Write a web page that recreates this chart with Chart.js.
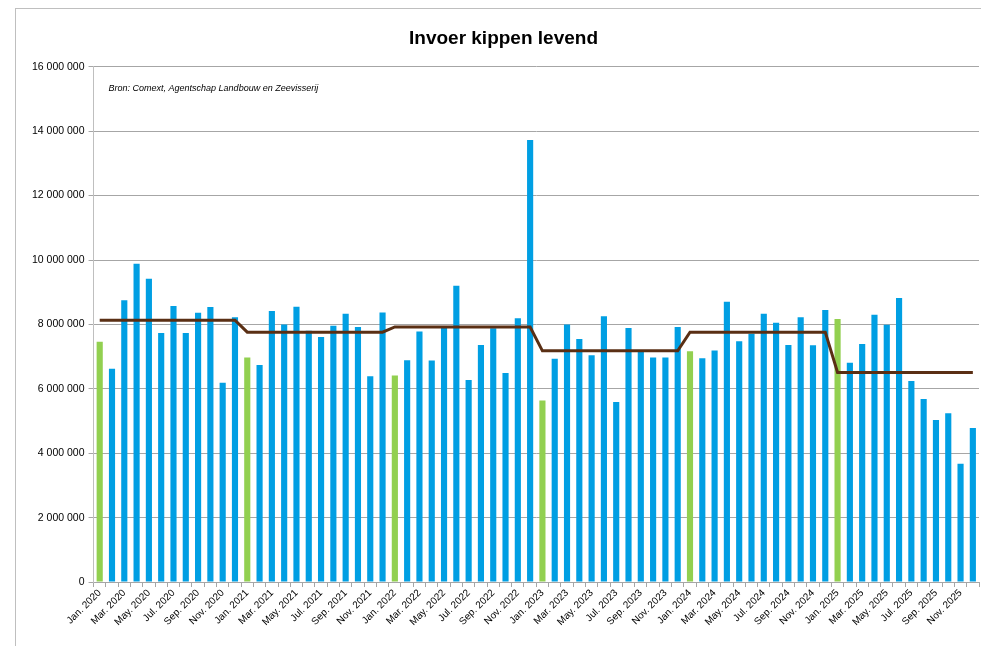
<!DOCTYPE html>
<html>
<head>
<meta charset="utf-8">
<script src="https://cdn.jsdelivr.net/npm/chart.js@4"></script>
<style>
  body { margin: 0; background: #fff; overflow: hidden; }
  #wrap { position: absolute; left: 15px; top: 8px; width: 970px; height: 642px; border: 1px solid #bfbfbf; box-sizing: border-box; }
  canvas { display: block; }
</style>
</head>
<body>
<div id="wrap"><canvas id="chart"></canvas></div>
<script>
// maanden jan 2020 - dec 2025
const years = ['2020', '2021', '2022', '2023', '2024', '2025'];
const monthNames = ['Jan.', 'Feb.', 'Mar.', 'Apr.', 'May.', 'Jun.', 'Jul.', 'Aug.', 'Sep.', 'Oct.', 'Nov.', 'Dec.'];

// invoer per maand (stuks)
const imports2020 = [7460000, 6620000, 8750000, 9880000, 9420000, 7730000, 8570000, 7730000, 8360000, 8540000, 6190000, 8220000];
const imports2021 = [6970000, 6740000, 8420000, 8000000, 8550000, 7800000, 7610000, 7960000, 8330000, 7920000, 6390000, 8370000];
const imports2022 = [6410000, 6890000, 7780000, 6880000, 7900000, 9200000, 6270000, 7360000, 7880000, 6490000, 8190000, 13730000];
const imports2023 = [5640000, 6930000, 8000000, 7550000, 7040000, 8250000, 5590000, 7890000, 7180000, 6970000, 6970000, 7920000];
const imports2024 = [7170000, 6950000, 7190000, 8700000, 7480000, 7710000, 8330000, 8050000, 7360000, 8220000, 7350000, 8450000];
const imports2025 = [8170000, 6810000, 7390000, 8300000, 7990000, 8820000, 6240000, 5680000, 5030000, 5240000, 3670000, 4780000];

// jaargemiddelde
const yearAverages = [8130000, 7760000, 7920000, 7180000, 7760000, 6510000];

const yTicks = [0, 2000000, 4000000, 6000000, 8000000, 10000000, 12000000, 14000000, 16000000];

const labels = [];
years.forEach(y => monthNames.forEach(m => labels.push(m + ' ' + y)));
const values = [].concat(imports2020, imports2021, imports2022, imports2023, imports2024, imports2025);
const averageLine = [];
yearAverages.forEach(a => { for (let i = 0; i < 12; i++) averageLine.push(a); });
const barColors = labels.map(l => l.startsWith('Jan.') ? '#92d050' : '#009fe3');

function fmt(v) {
    return String(v).replace(/\B(?=(\d{3})+(?!\d))/g, ' ');
}

const sourceNote = {
    id: 'sourceNote',
    afterDraw(chart) {
        const ctx = chart.ctx;
        ctx.save();
        ctx.font = 'italic 9px "Liberation Sans"';
        ctx.fillStyle = '#000';
        ctx.textBaseline = 'middle';
        ctx.fillText('Bron: Comext, Agentschap Landbouw en Zeevisserij', chart.chartArea.left + 15, chart.chartArea.top + 22);
        ctx.restore();
    }
};

const wrap = document.getElementById('wrap');
const canvas = document.getElementById('chart');
canvas.width = wrap.clientWidth;
canvas.height = wrap.clientHeight;

new Chart(canvas.getContext('2d'), {
    data: {
        labels: labels,
        datasets: [
            {
                type: 'line',
                data: averageLine,
                borderColor: '#5a2f14',
                borderWidth: 3,
                pointRadius: 0,
                tension: 0,
                order: 0
            },
            {
                type: 'bar',
                data: values,
                backgroundColor: barColors,
                barPercentage: 0.5,
                categoryPercentage: 1,
                order: 1
            }
        ]
    },
    options: {
        responsive: false,
        animation: false,
        layout: { padding: { left: 12, right: 5, top: 0, bottom: 21 } },
        plugins: {
            legend: { display: false },
            tooltip: { enabled: false },
            title: {
                display: true,
                text: 'Invoer kippen levend',
                color: '#000',
                font: { family: '"Liberation Sans"', size: 19, weight: 'bold' },
                padding: { top: 18, bottom: 17 }
            }
        },
        scales: {
            x: {
                offset: true,
                grid: { offset: true, drawOnChartArea: false, drawTicks: true, tickLength: 5, color: '#a6a6a6' },
                border: { color: '#a6a6a6' },
                ticks: {
                    autoSkip: false,
                    maxRotation: 45,
                    minRotation: 45,
                    color: '#000',
                    font: { family: '"Liberation Sans"', size: 10 },
                    padding: 0,
                    callback: function(value, index) {
                        return index % 2 === 0 ? labels[index] : '';
                    }
                }
            },
            y: {
                min: 0,
                max: 16000000,
                afterBuildTicks: axis => { axis.ticks = yTicks.map(v => ({ value: v })); },
                grid: { color: '#a6a6a6', tickLength: 5 },
                border: { color: '#bfbfbf' },
                ticks: {
                    color: '#000',
                    font: { family: '"Liberation Sans"', size: 10.5 },
                    padding: 4,
                    callback: v => fmt(v)
                }
            }
        }
    },
    plugins: [sourceNote]
});
</script>
</body>
</html>
